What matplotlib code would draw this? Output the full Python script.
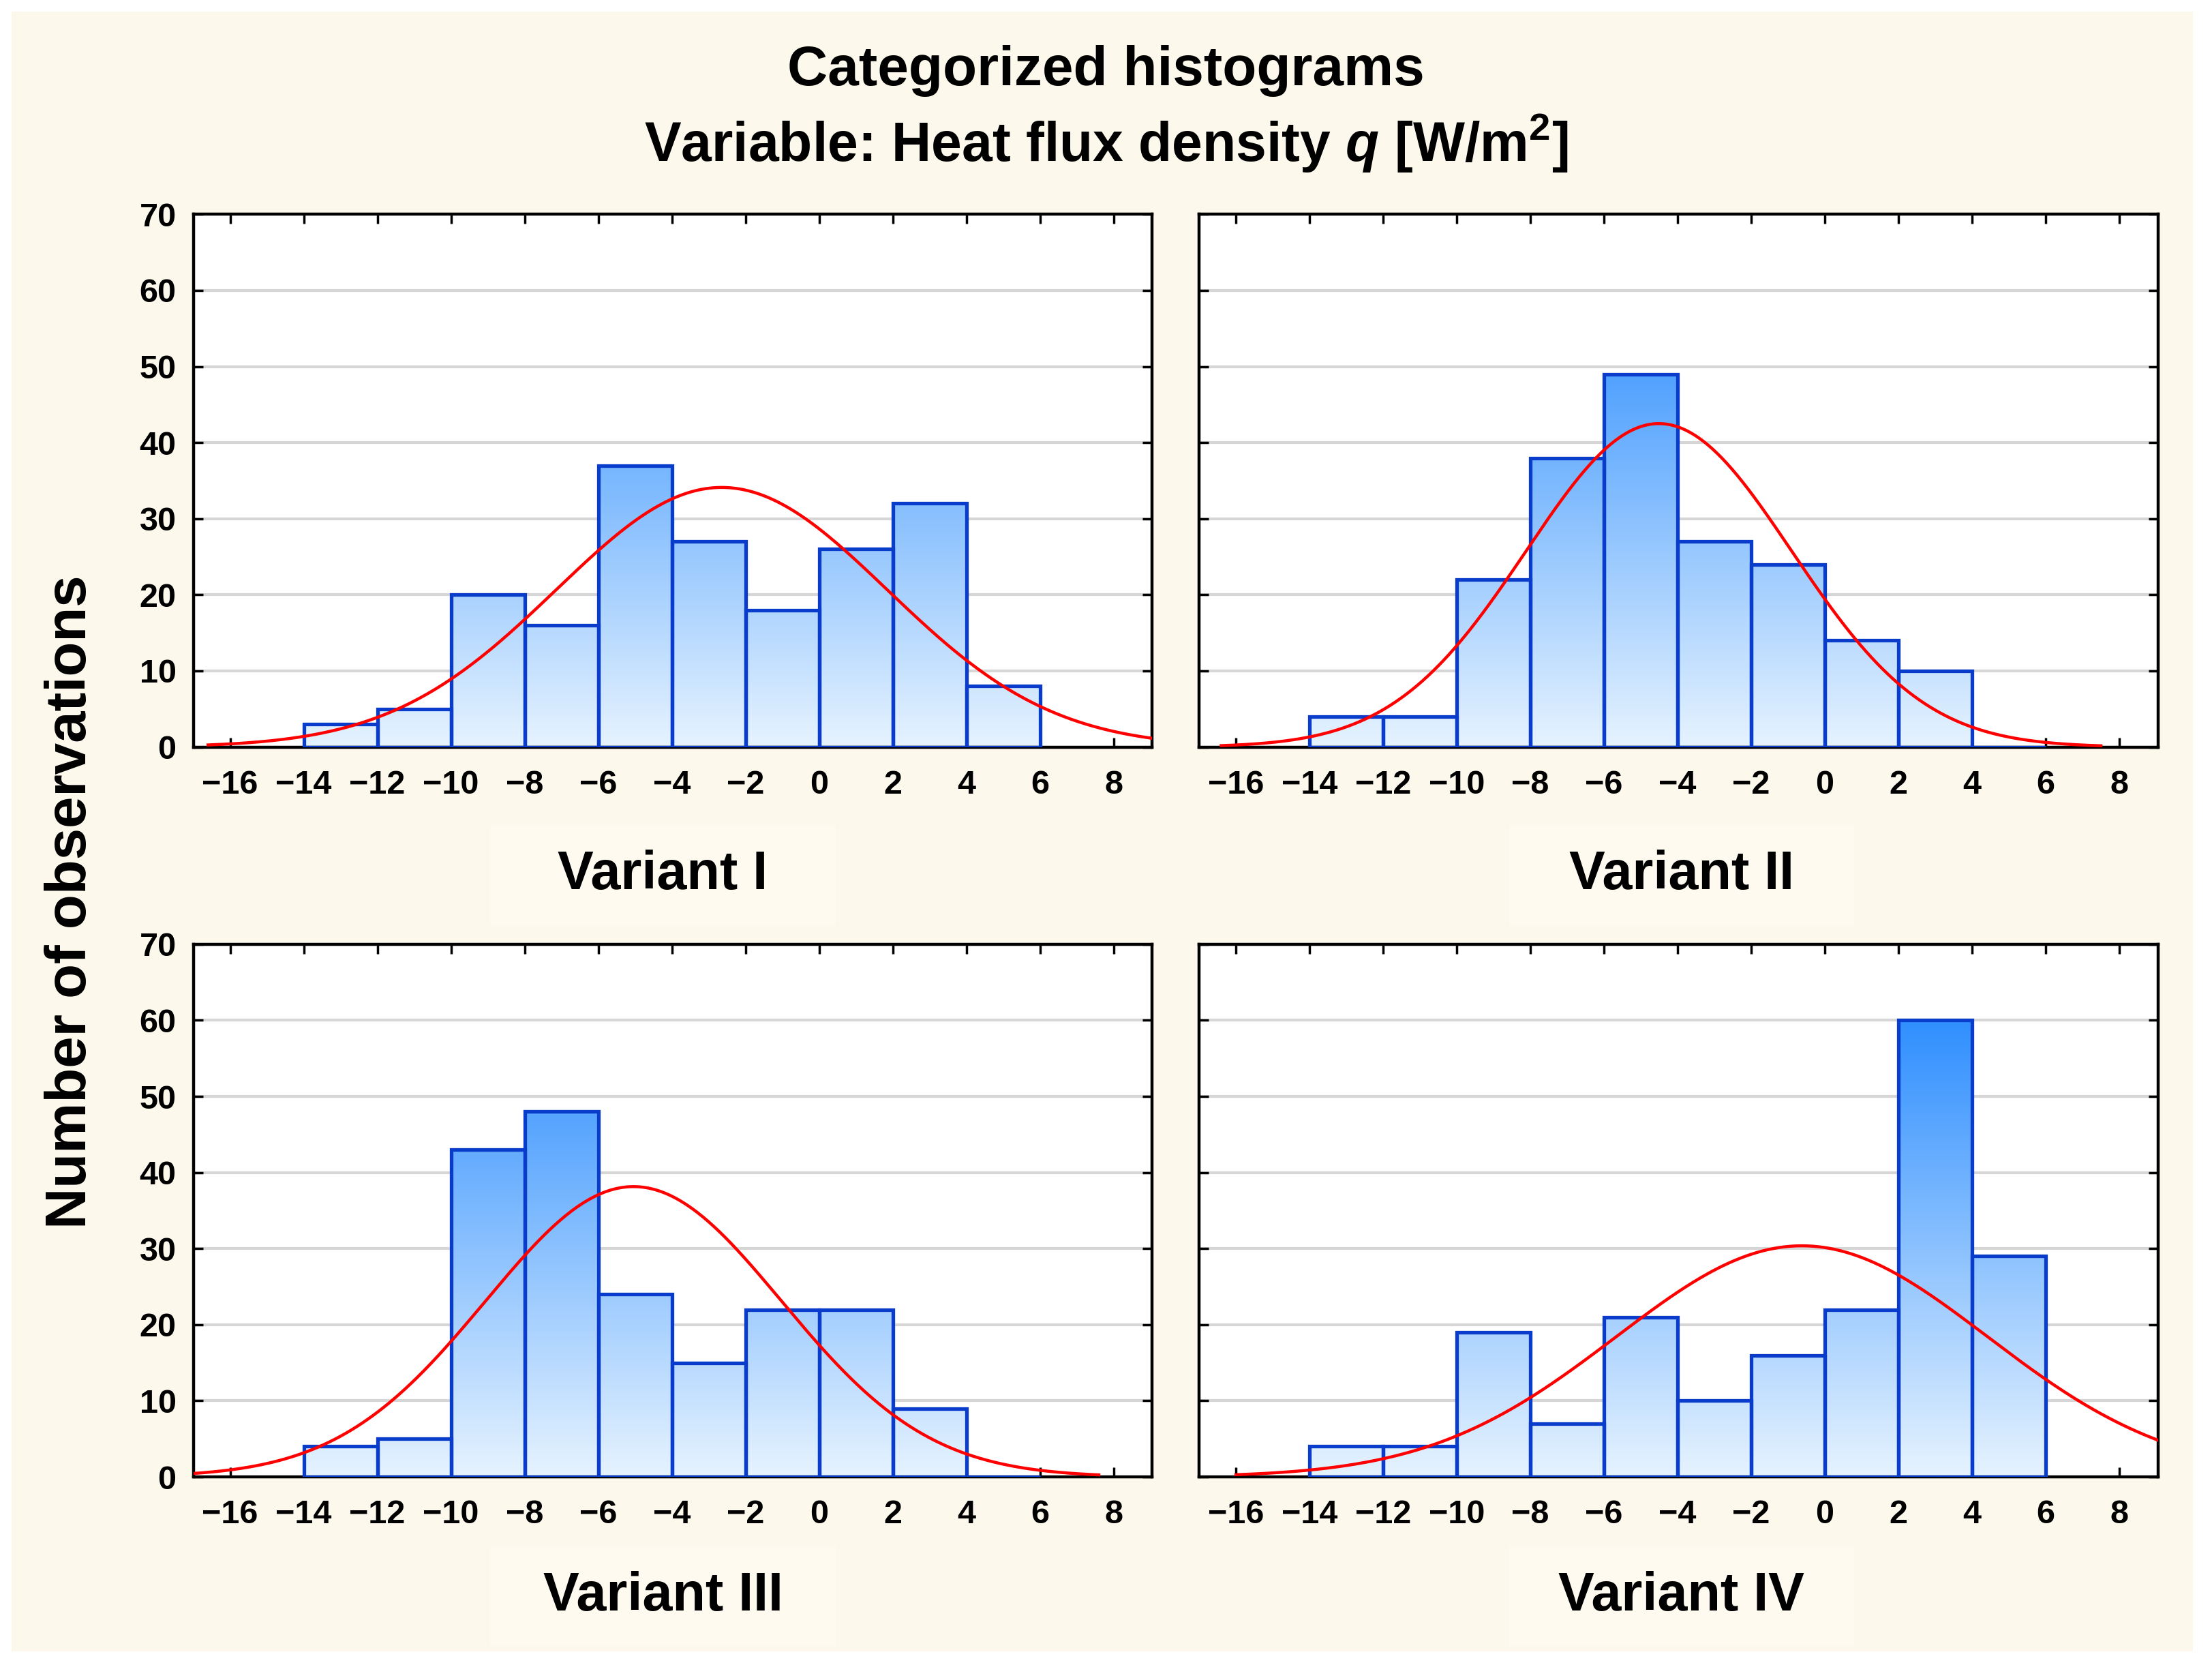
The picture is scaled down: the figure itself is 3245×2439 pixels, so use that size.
import numpy as np
import matplotlib
matplotlib.use('Agg')
import matplotlib.pyplot as plt
from matplotlib.colors import LinearSegmentedColormap
from matplotlib.patches import Rectangle

plt.rcParams['font.family'] = ['Liberation Sans', 'DejaVu Sans']
plt.rcParams['mathtext.fontset'] = 'custom'
plt.rcParams['mathtext.rm'] = 'Liberation Sans:bold'
plt.rcParams['mathtext.it'] = 'Liberation Sans:italic:bold'

# histogram data (bin width 2, from -14 to 6)
bin_edges = np.arange(-14, 8, 2)
variant_names = ['Variant I', 'Variant II', 'Variant III', 'Variant IV']
counts_1 = [3, 5, 20, 16, 37, 27, 18, 26, 32, 8]
counts_2 = [4, 4, 22, 38, 49, 27, 24, 14, 10, 0]
counts_3 = [4, 5, 43, 48, 24, 15, 22, 22, 9, 0]
counts_4 = [4, 4, 19, 7, 21, 10, 16, 22, 60, 29]
all_counts = [counts_1, counts_2, counts_3, counts_4]

x_ticks = np.arange(-16, 10, 2)
y_ticks = np.arange(0, 80, 10)

# where the fitted normal curve is drawn in each panel
curve_span = [(-16.6, 9.05), (-16.4, 7.5), (-17.0, 7.6), (-16.0, 9.05)]

bg = '#FDF8EC'
edge_blue = '#0A3CCC'
grad = LinearSegmentedColormap.from_list('bars', ['#E6F3FE', '#2A8CFF'])

fig = plt.figure(figsize=(32.45, 24.39), dpi=100)
fig.patch.set_facecolor('white')
fig.patches.append(Rectangle((17 / 3245, 17 / 2439), (3245 - 45) / 3245, (2439 - 34) / 2439,
                             transform=fig.transFigure, facecolor=bg, edgecolor='none', zorder=-10))

positions = [(0.0874, 0.5508), (0.5421, 0.5508), (0.0874, 0.1119), (0.5421, 0.1119)]
label_pos = [(0.2997, 0.4736), (0.7602, 0.4736), (0.2997, 0.0400), (0.7602, 0.0400)]
w, h = 0.4335, 0.3203

for i, counts in enumerate(all_counts):
    ax = fig.add_axes([positions[i][0], positions[i][1], w, h])
    ax.set_facecolor('white')

    # bars with a vertical gradient depending on the count value
    lefts = bin_edges[:-1]
    for left, c in zip(lefts, counts):
        if c == 0:
            continue
        g = np.linspace(0, c, 256).reshape(-1, 1)
        ax.imshow(g, extent=[left, left + 2, 0, c], origin='lower', cmap=grad,
                  vmin=0, vmax=62, aspect='auto', zorder=2, interpolation='bilinear')
    ax.bar(lefts, counts, width=2, align='edge', facecolor='none',
           edgecolor=edge_blue, linewidth=3.8, zorder=3)

    # fitted normal curve
    counts_arr = np.array(counts)
    mids = lefts + 1
    n = counts_arr.sum()
    mean = (counts_arr * mids).sum() / n
    sd = np.sqrt((counts_arr * (mids - mean) ** 2).sum() / n)
    xs = np.linspace(curve_span[i][0], curve_span[i][1], 500)
    ys = n * 2 / (sd * np.sqrt(2 * np.pi)) * np.exp(-0.5 * ((xs - mean) / sd) ** 2)
    ax.plot(xs, ys, color='#FF0000', linewidth=3.2, zorder=4)

    ax.set_xlim(-17, 9.05)
    ax.set_ylim(0, 70)
    ax.set_xticks(x_ticks)
    ax.set_yticks(y_ticks)
    ax.yaxis.grid(True, color='#D6D6D6', linewidth=3)
    ax.set_axisbelow(True)
    ax.tick_params(direction='in', length=10, width=2.5, top=True, right=True,
                   labelsize=35)
    ax.tick_params(axis='x', pad=24)
    ax.tick_params(axis='y', pad=18)
    for lab in ax.get_xticklabels() + ax.get_yticklabels():
        lab.set_fontweight('bold')
    for sp in ax.spines.values():
        sp.set_linewidth(3.2)
    if i in (1, 3):
        ax.set_yticklabels([])

    lx, ly = label_pos[i]
    fig.patches.append(Rectangle((lx - 0.078, ly - 0.03), 0.156, 0.06, transform=fig.transFigure,
                                 facecolor='#FFFAF0', edgecolor='none', zorder=-5))
    fig.text(lx, ly, variant_names[i], ha='center', va='center', fontsize=57, fontweight='bold')

fig.text(0.5, 0.9575, 'Categorized histograms', ha='center', va='center',
         fontsize=59, fontweight='bold')
fig.text(0.5, 0.9140, 'Variable: Heat flux density $q$ [W/m$^2$]', ha='center', va='center',
         fontsize=58, fontweight='bold')
fig.text(0.0319, 0.4576, 'Number of observations', ha='center', va='center', rotation=90,
         fontsize=60, fontweight='bold')

fig.savefig('out.png', dpi=100, facecolor=fig.get_facecolor())
